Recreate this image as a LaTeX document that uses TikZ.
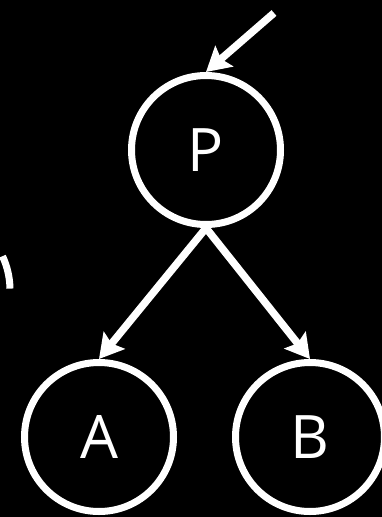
\documentclass[tikz,border=0pt]{standalone}
\usepackage{fontspec}
\setmainfont{Open Sans}
\usetikzlibrary{arrows.meta}
\begin{document}
\begin{tikzpicture}[x=1pt,y=-1pt,
  nd/.style={circle,draw=white,line width=7pt,minimum size=149pt,inner sep=0pt,text=white,font=\fontsize{60}{60}\selectfont},
  ar/.style={draw=white,line width=7.5pt,-{Stealth[length=24pt,width=27pt,inset=4pt]}}]
\fill[black] (0,0) rectangle (382,517);
\useasboundingbox (0,0) rectangle (382,517);
\node[nd] (P) at (206,150) {P};
\node[nd] (A) at (99,437) {A};
\node[nd] (B) at (310,437) {B};
\coordinate (s) at (274,13);
\draw[ar] (s) -- (P.north);
\draw[ar] (P.south) -- (A.north);
\draw[ar] (P.south) -- (B.north);
\draw[white,line width=7pt] (-70,290) ++(-25:80) arc[start angle=-25,end angle=-1,radius=80];
\end{tikzpicture}
\end{document}
